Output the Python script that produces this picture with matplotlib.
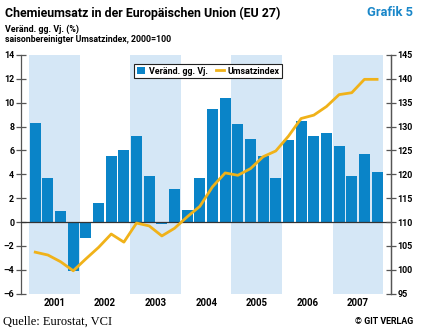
import matplotlib
matplotlib.use("Agg")
import matplotlib.pyplot as plt
import matplotlib.transforms as mtransforms
from matplotlib.patches import Patch
from matplotlib.lines import Line2D
import numpy as np

years = ["2001", "2002", "2003", "2004", "2005", "2006", "2007"]
change_pct = [8.3, 3.7, 0.9, -4.1,
              -1.3, 1.6, 5.5, 6.0,
              7.2, 3.9, -0.2, 2.8,
              1.0, 3.7, 9.5, 10.4,
              8.2, 7.0, 5.5, 3.7,
              6.9, 8.5, 7.2, 7.5,
              6.4, 3.9, 5.7, 4.2]
sales_index = [103.7, 103.1, 101.7, 99.8,
               102.3, 104.7, 107.5, 105.8,
               109.8, 109.2, 107.1, 108.7,
               111.1, 113.3, 117.4, 120.3,
               119.8, 121.2, 123.7, 124.9,
               128.0, 131.7, 132.4, 134.2,
               136.7, 137.1, 139.9, 139.9]
left_ticks = [-6, -4, -2, 0, 2, 4, 6, 8, 10, 12, 14]
right_ticks = [95, 100, 105, 110, 115, 120, 125, 130, 135, 140, 145]

W, H = 425, 332
def fx(px): return px / W
def fy(py): return 1 - py / H

FAM = ["Roboto", "DejaVu Sans"]
FONT = dict(family=FAM, fontstretch="condensed", fontweight="bold")
BAR = "#0a84c8"
BAND = "#d5e7f6"
LINE = "#f0b219"
AX = "#555555"

fig = plt.figure(figsize=(4.25, 3.32), dpi=100)
renderer = fig.canvas.get_renderer()

def fit(t, target):
    for _ in range(3):
        w = t.get_window_extent(renderer).width
        t.set_fontsize(t.get_fontsize() * target / w)

def probe_size(s, target):
    t = fig.text(0, 0, s, fontsize=8, **FONT)
    fit(t, target)
    size = t.get_fontsize()
    t.remove()
    return size

tick_size = probe_size("145", 15.5)
year_size = probe_size("2001", 22)

ax = fig.add_axes([fx(20.7), fy(293.7), fx(391) - fx(20.7), fy(55) - fy(293.7)])
x = np.arange(len(change_pct))

for i, y in enumerate(years):
    if i % 2 == 0:
        ax.axvspan(4*i - 0.5, 4*i + 3.5, color=BAND, lw=0, zorder=0)

ax.bar(x, change_pct, width=0.86, color=BAR, zorder=2)
ax.axhline(0, color="#333333", lw=0.9, zorder=3)
ax.set_ylim(-6, 14)
ax.set_xlim(-1.15, 28.1)
ax.set_yticks(left_ticks)
ax.set_yticklabels([str(v).replace("-", "\u2013") for v in left_ticks])
ax.set_xticks([])
for s in ["top", "bottom"]:
    ax.spines[s].set_visible(False)
for s in ["left", "right"]:
    ax.spines[s].set_color(AX)
    ax.spines[s].set_linewidth(0.9)
ax.tick_params(axis="y", direction="inout", length=7, width=0.9, color=AX, pad=1.2,
               labelsize=tick_size)
for lab in ax.get_yticklabels():
    lab.set_fontfamily(FAM)
    lab.set_fontweight("bold")

ax2 = ax.twinx()
ax2.plot(x, sales_index, color=LINE, lw=2.0, zorder=4, solid_joinstyle="round")
ax2.set_ylim(95, 145)
ax2.set_yticks(right_ticks)
for s in ["top", "bottom", "left"]:
    ax2.spines[s].set_visible(False)
ax2.spines["right"].set_color(AX)
ax2.spines["right"].set_linewidth(0.9)
ax2.tick_params(axis="y", direction="inout", length=7, width=0.9, color=AX, pad=1.2,
                labelsize=tick_size)
for lab in ax2.get_yticklabels():
    lab.set_fontfamily(FAM)
    lab.set_fontweight("bold")

trans = mtransforms.blended_transform_factory(ax.transData, fig.transFigure)
for i, y in enumerate(years):
    ax.text(4*i + 1.5, fy(306), y, transform=trans, ha="center", va="baseline",
            fontsize=year_size, **FONT)

handles = [Patch(facecolor=BAR, edgecolor="none"),
           Line2D([0], [0], color=LINE, lw=2)]

def make_legend(size):
    leg = ax2.legend(handles, ["Veränd. gg. Vj.", "Umsatzindex"], ncol=2,
                     loc="upper left",
                     bbox_to_anchor=(fx(134), fy(64)), bbox_transform=fig.transFigure,
                     frameon=True, fancybox=False, framealpha=1, edgecolor="#222222",
                     prop={"family": FAM, "weight": "bold", "size": size},
                     handlelength=1.0, handleheight=0.9, handletextpad=0.35,
                     columnspacing=0.9, borderpad=0.3, borderaxespad=0)
    leg.get_frame().set_linewidth(0.8)
    return leg

size = 7.5
for _ in range(3):
    leg = make_legend(size)
    w = leg.get_window_extent(renderer).width
    size = size * 147 / w
leg = make_legend(size)
leg.set_zorder(10)

title = fig.text(fx(5), fy(16.5), "Chemieumsatz in der Europäischen Union (EU 27)",
                 ha="left", va="baseline", fontsize=12, **FONT)
fit(title, 274)
graf = fig.text(fx(413), fy(16.5), "Grafik 5", ha="right", va="baseline",
                fontsize=11, color="#1a87c9", **FONT)
fit(graf, 46)
s1 = fig.text(fx(5), fy(31.5), "Veränd. gg. Vj. (%)", ha="left", va="baseline",
              fontsize=7.5, **FONT)
fit(s1, 73)
s2 = fig.text(fx(5), fy(41.8), "saisonbereinigter Umsatzindex, 2000=100", ha="left",
              va="baseline", fontsize=7.5, **FONT)
fit(s2, 167)
q = fig.text(fx(3), fy(325), "Quelle: Eurostat, VCI", ha="left", va="baseline",
             fontsize=8.5, family=["Liberation Serif", "DejaVu Serif"])
fit(q, 109)
c = fig.text(fx(413), fy(324), "© GIT VERLAG", ha="right", va="baseline",
             fontsize=6, **FONT)
fit(c, 58)

fig.savefig("out.png", dpi=100)
